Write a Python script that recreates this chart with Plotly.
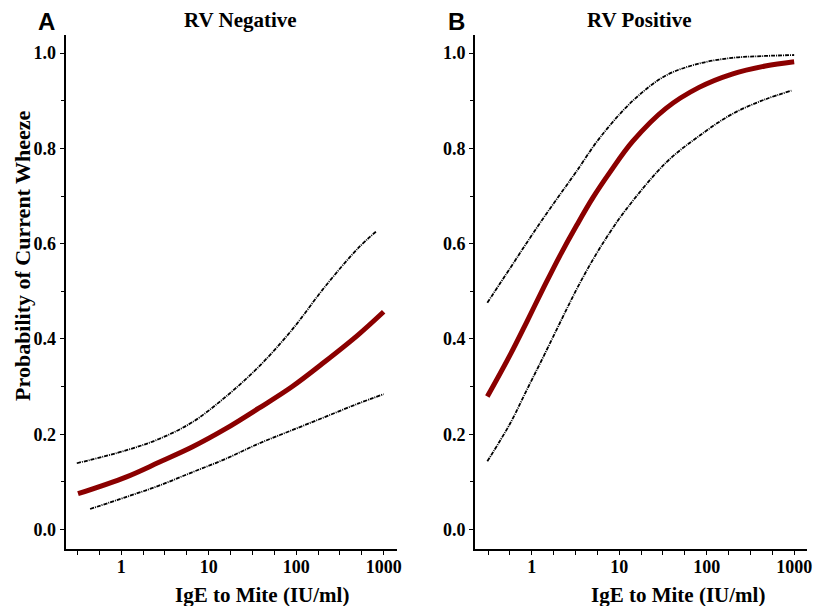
import plotly.graph_objects as go

# IgE to mite (IU/ml) and predicted probability of current wheeze
neg_x = [0.32, 1.13, 2.7, 6.46, 15.5, 37, 88.5, 212, 507, 1000]
neg_fit = [0.075, 0.110, 0.141, 0.173, 0.211, 0.254, 0.299, 0.352, 0.408, 0.457]

neg_upper_x = [0.31, 1.13, 2.7, 6.46, 15.5, 37, 88.5, 212, 507, 815]
neg_upper = [0.139, 0.166, 0.190, 0.225, 0.278, 0.341, 0.418, 0.509, 0.590, 0.625]

neg_lower_x = [0.44, 1.13, 2.7, 6.46, 15.5, 37, 88.5, 212, 507, 1000]
neg_lower = [0.043, 0.068, 0.092, 0.120, 0.148, 0.180, 0.208, 0.236, 0.264, 0.284]

pos_x = [0.31, 0.567, 0.877, 1.36, 2.1, 3.25, 5.02, 7.77, 14.3, 34.2, 81.8, 195, 468, 1000]
pos_fit = [0.279, 0.367, 0.436, 0.507, 0.575, 0.638, 0.697, 0.749, 0.815, 0.884, 0.928, 0.956, 0.973, 0.982]

pos_upper_x = [0.31, 0.567, 0.877, 1.36, 2.1, 3.25, 5.98, 14.3, 34.2, 81.8, 195, 468, 1000]
pos_upper = [0.476, 0.549, 0.602, 0.654, 0.703, 0.752, 0.822, 0.900, 0.953, 0.978, 0.990, 0.994, 0.996]

pos_lower_x = [0.31, 0.567, 0.877, 1.36, 2.1, 3.25, 5.02, 7.77, 12, 34.2, 81.8, 195, 468, 930]
pos_lower = [0.143, 0.223, 0.293, 0.363, 0.434, 0.504, 0.567, 0.623, 0.672, 0.770, 0.826, 0.872, 0.903, 0.921]

x_tickvals = [0.316, 0.562, 1, 1.78, 3.16, 5.62, 10, 17.8, 31.6, 56.2, 100, 178, 316, 562, 1000]
x_ticktext = ["", "", "1", "", "", "", "10", "", "", "", "100", "", "", "", "1000"]
y_tickvals = [0, 0.2, 0.4, 0.6, 0.8, 1.0]
y_ticktext = ["0.0", "0.2", "0.4", "0.6", "0.8", "1.0"]

SERIF = "Liberation Serif, Times New Roman, serif"
SANS = "Liberation Sans, Arial, sans-serif"
FIT_COLOR = "#8B0000"
CI_DASH = "4px,1px,1px,1px"

# the page body has an 8px margin, so the figure is drawn a little smaller and shifted
OFF = 8
W, H = 827 - OFF, 606 - OFF

def xp(px):
    return (px - OFF) / W

def yp(py):
    return 1 - (py - OFF) / H

fig = go.Figure()

panels = [
    ("x", "y", neg_x, neg_fit, neg_upper_x, neg_upper, neg_lower_x, neg_lower),
    ("x2", "y2", pos_x, pos_fit, pos_upper_x, pos_upper, pos_lower_x, pos_lower),
]
for xa, ya, fx, fy, ux, uy, lx, ly in panels:
    fig.add_trace(go.Scatter(x=ux, y=uy, xaxis=xa, yaxis=ya, mode="lines",
                             line=dict(color="black", width=1.8, dash=CI_DASH, shape="spline")))
    fig.add_trace(go.Scatter(x=lx, y=ly, xaxis=xa, yaxis=ya, mode="lines",
                             line=dict(color="black", width=1.8, dash=CI_DASH, shape="spline")))
    fig.add_trace(go.Scatter(x=fx, y=fy, xaxis=xa, yaxis=ya, mode="lines",
                             line=dict(color=FIT_COLOR, width=5, shape="spline")))

tickfont = dict(family=SERIF, size=18, color="black", weight="bold")
xaxis_style = dict(type="log", showline=True, linecolor="black", linewidth=2,
                   showgrid=False, zeroline=False, ticks="outside", ticklen=4,
                   tickwidth=1, tickcolor="black", tickvals=x_tickvals,
                   ticktext=x_ticktext, tickfont=tickfont, ticklabelstandoff=-4)
yaxis_style = dict(range=[-0.041, 1.038], showline=True, linecolor="black", linewidth=2,
                   showgrid=False, zeroline=False, ticks="outside", ticklen=4,
                   tickwidth=1, tickcolor="black", tickvals=y_tickvals,
                   ticktext=y_ticktext, tickfont=tickfont,
                   minor=dict(tick0=0, dtick=0.1, ticks="outside", ticklen=3,
                              tickcolor="black", tickwidth=1))

fig.update_layout(
    width=W, height=H,
    margin=dict(l=0, r=0, t=0, b=0),
    paper_bgcolor="white", plot_bgcolor="white",
    showlegend=False,
    xaxis=dict(xaxis_style, domain=[xp(66), xp(399)], range=[-0.636, 3.148], anchor="y"),
    yaxis=dict(yaxis_style, domain=[yp(549), yp(35)], anchor="x"),
    xaxis2=dict(xaxis_style, domain=[xp(478), xp(812)], range=[-0.648, 3.148], anchor="y2"),
    yaxis2=dict(yaxis_style, domain=[yp(549), yp(35)], anchor="x2"),
)

def note(text, x, y, size, family=SERIF, angle=0):
    fig.add_annotation(text=text, x=xp(x), y=yp(y), xref="paper", yref="paper",
                       showarrow=False, textangle=angle, xanchor="center", yanchor="middle",
                       font=dict(family=family, size=size, color="black", weight="bold"))

note("RV Negative", 242, 20, 21)
note("RV Positive", 643, 20, 21)
note("A", 47, 22, 24, family=SANS)
note("B", 459, 22, 24, family=SANS)
note("IgE to Mite (IU/ml)", 264, 595, 21)
note("IgE to Mite (IU/ml)", 682, 595, 21)
note("Probability of Current Wheeze", 23, 256, 22, angle=-90)

fig.write_html("out.html")
